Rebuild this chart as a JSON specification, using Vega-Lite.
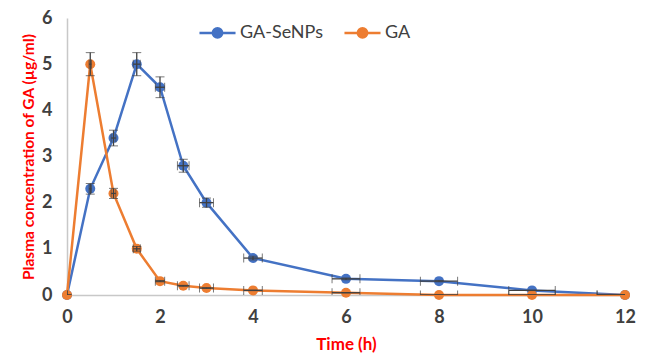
{
  "$schema": "https://vega.github.io/schema/vega-lite/v6.json",
  "autosize": {"type": "none"},
  "width": 558,
  "height": 277,
  "padding": {"left": 67, "top": 18, "right": 26, "bottom": 63},
  "background": "white",
  "config": {
    "view": {"stroke": null},
    "font": "Lato",
    "axis": {"grid": false, "ticks": false, "domainColor": "#c8c8c8", "domainWidth": 1.5, "labelFlush": false,
      "labelFont": "Lato", "labelFontSize": 18, "labelFontWeight": "bold", "labelColor": "#404040",
      "titleFont": "Lato", "titleColor": "#ff0000", "titleFontWeight": "bold"}
  },
  "data": {"values": [
    {"series": "GA-SeNPs", "time": 0, "conc": 0, "ylo": 0, "yhi": 0, "xlo": 0, "xhi": 0},
    {"series": "GA-SeNPs", "time": 0.5, "conc": 2.3, "ylo": 2.185, "yhi": 2.415, "xlo": 0.475, "xhi": 0.525},
    {"series": "GA-SeNPs", "time": 1, "conc": 3.4, "ylo": 3.23, "yhi": 3.57, "xlo": 0.95, "xhi": 1.05},
    {"series": "GA-SeNPs", "time": 1.5, "conc": 5.0, "ylo": 4.75, "yhi": 5.25, "xlo": 1.425, "xhi": 1.575},
    {"series": "GA-SeNPs", "time": 2, "conc": 4.5, "ylo": 4.275, "yhi": 4.725, "xlo": 1.9, "xhi": 2.1},
    {"series": "GA-SeNPs", "time": 2.5, "conc": 2.8, "ylo": 2.66, "yhi": 2.94, "xlo": 2.375, "xhi": 2.625},
    {"series": "GA-SeNPs", "time": 3, "conc": 2.0, "ylo": 1.9, "yhi": 2.1, "xlo": 2.85, "xhi": 3.15},
    {"series": "GA-SeNPs", "time": 4, "conc": 0.8, "ylo": 0.76, "yhi": 0.84, "xlo": 3.8, "xhi": 4.2},
    {"series": "GA-SeNPs", "time": 6, "conc": 0.35, "ylo": 0.33, "yhi": 0.37, "xlo": 5.7, "xhi": 6.3},
    {"series": "GA-SeNPs", "time": 8, "conc": 0.3, "ylo": 0.285, "yhi": 0.315, "xlo": 7.6, "xhi": 8.4},
    {"series": "GA-SeNPs", "time": 10, "conc": 0.1, "ylo": 0.095, "yhi": 0.105, "xlo": 9.5, "xhi": 10.5},
    {"series": "GA-SeNPs", "time": 12, "conc": 0, "ylo": 0, "yhi": 0, "xlo": 11.4, "xhi": 12.6},
    {"series": "GA", "time": 0, "conc": 0, "ylo": 0, "yhi": 0, "xlo": 0, "xhi": 0},
    {"series": "GA", "time": 0.5, "conc": 5.0, "ylo": 4.75, "yhi": 5.25, "xlo": 0.475, "xhi": 0.525},
    {"series": "GA", "time": 1, "conc": 2.2, "ylo": 2.09, "yhi": 2.31, "xlo": 0.95, "xhi": 1.05},
    {"series": "GA", "time": 1.5, "conc": 1.0, "ylo": 0.95, "yhi": 1.05, "xlo": 1.425, "xhi": 1.575},
    {"series": "GA", "time": 2, "conc": 0.3, "ylo": 0.285, "yhi": 0.315, "xlo": 1.9, "xhi": 2.1},
    {"series": "GA", "time": 2.5, "conc": 0.2, "ylo": 0.19, "yhi": 0.21, "xlo": 2.375, "xhi": 2.625},
    {"series": "GA", "time": 3, "conc": 0.15, "ylo": 0.1425, "yhi": 0.1575, "xlo": 2.85, "xhi": 3.15},
    {"series": "GA", "time": 4, "conc": 0.1, "ylo": 0.095, "yhi": 0.105, "xlo": 3.8, "xhi": 4.2},
    {"series": "GA", "time": 6, "conc": 0.05, "ylo": 0.0475, "yhi": 0.0525, "xlo": 5.7, "xhi": 6.3},
    {"series": "GA", "time": 8, "conc": 0, "ylo": 0, "yhi": 0, "xlo": 7.6, "xhi": 8.4},
    {"series": "GA", "time": 10, "conc": 0, "ylo": 0, "yhi": 0, "xlo": 9.5, "xhi": 10.5},
    {"series": "GA", "time": 12, "conc": 0, "ylo": 0, "yhi": 0, "xlo": 11.4, "xhi": 12.6}
  ]},
  "layer": [
    {
      "mark": {"type": "line", "strokeWidth": 2.5, "point": {"filled": true, "size": 100, "opacity": 1}},
      "encoding": {
        "x": {"field": "time", "type": "quantitative", "title": "Time (h)", "scale": {"domain": [0, 12], "nice": false},
          "axis": {"values": [0, 2, 4, 6, 8, 10, 12], "titleFontSize": 17, "labelPadding": 13, "titlePadding": 10}},
        "y": {"field": "conc", "type": "quantitative", "title": "Plasma concentration of GA (µg/ml)", "scale": {"domain": [0, 6], "nice": false},
          "axis": {"values": [0, 1, 2, 3, 4, 5, 6], "titleFontSize": 15.5, "labelPadding": 15, "titlePadding": 5}},
        "color": {"field": "series", "type": "nominal", "sort": ["GA-SeNPs", "GA"],
          "scale": {"domain": ["GA-SeNPs", "GA"], "range": ["#4472c4", "#ed7d31"]},
          "legend": {"title": null, "orient": "none", "legendX": 131, "legendY": -5, "direction": "horizontal",
            "labelFontSize": 18, "labelColor": "#404040", "labelFont": "Lato", "labelOffset": 3, "columnPadding": 16,
            "symbolType": "M-1,0H1M0.26,0A0.26,0.26,0,1,1,-0.26,0A0.26,0.26,0,1,1,0.26,0",
            "symbolSize": 1300, "symbolStrokeWidth": 2.5,
            "encode": {"symbols": {"update": {"fill": {"scale": "color", "field": "value"}, "stroke": {"scale": "color", "field": "value"}, "opacity": {"value": 1}}}}}},
        "order": {"field": "time"}
      }
    },
    {
      "mark": {"type": "errorbar", "ticks": {"size": 9, "color": "#404040", "strokeWidth": 1.3}, "rule": {"color": "#404040", "strokeWidth": 1.3}, "clip": true},
      "encoding": {
        "x": {"field": "time", "type": "quantitative", "title": "Time (h)"},
        "y": {"field": "ylo", "type": "quantitative", "title": "Plasma concentration of GA (µg/ml)"},
        "y2": {"field": "yhi"}
      }
    },
    {
      "mark": {"type": "errorbar", "ticks": {"size": 9, "color": "#404040", "strokeWidth": 1.3}, "rule": {"color": "#404040", "strokeWidth": 1.3}, "clip": true},
      "encoding": {
        "y": {"field": "conc", "type": "quantitative", "title": "Plasma concentration of GA (µg/ml)"},
        "x": {"field": "xlo", "type": "quantitative", "title": "Time (h)"},
        "x2": {"field": "xhi"}
      }
    }
  ]
}
